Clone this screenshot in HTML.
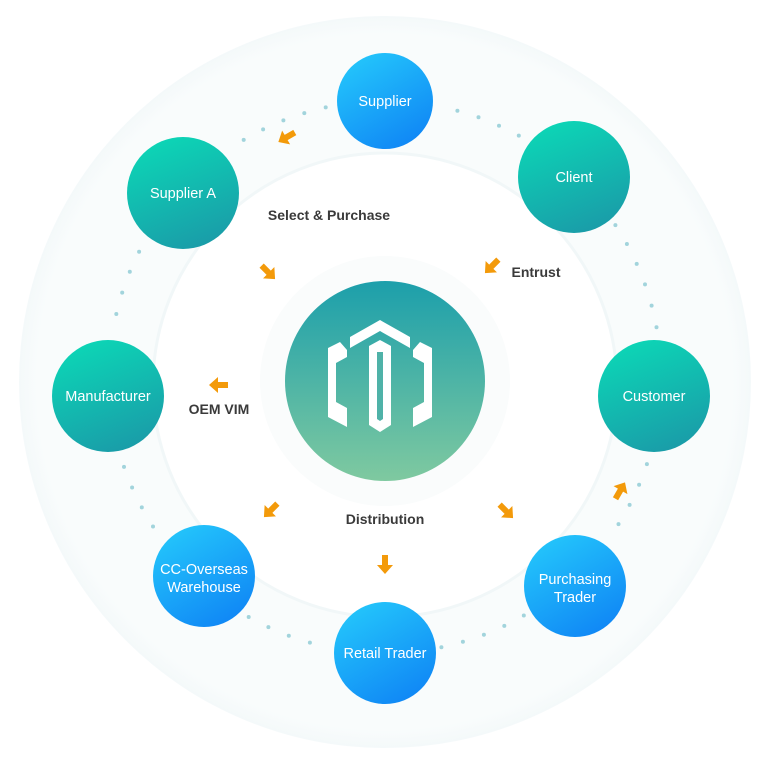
<!DOCTYPE html>
<html><head><meta charset="utf-8"><style>
html,body{margin:0;padding:0;background:#fff;width:781px;height:780px;overflow:hidden}
text{font-family:"Liberation Sans",sans-serif}
</style></head><body>
<svg id="s" width="781" height="780" viewBox="0 0 781 780" xmlns="http://www.w3.org/2000/svg">
<defs>
<linearGradient id="bl" x1="0.2" y1="0" x2="0.8" y2="1"><stop offset="0" stop-color="#24c7fb"/><stop offset="1" stop-color="#0f84f5"/></linearGradient>
<linearGradient id="gr" x1="0.3" y1="0" x2="0.7" y2="1"><stop offset="0" stop-color="#0cd6b6"/><stop offset="1" stop-color="#1a9ba8"/></linearGradient>
<linearGradient id="ct" x1="0" y1="0" x2="0" y2="1"><stop offset="0" stop-color="#1c9fab"/><stop offset="1" stop-color="#7fc9a0"/></linearGradient>
<radialGradient id="og" cx="0.5" cy="0.5" r="0.5"><stop offset="0.95" stop-color="#f9fcfc"/><stop offset="1" stop-color="#f4f9fa"/></radialGradient>
<path id="ar" d="M-9,-3 L1,-3 L1,-8 L10,0 L1,8 L1,3 L-9,3Z" fill="#f39a0a"/>
</defs>
<circle cx="385" cy="382" r="366" fill="url(#og)"/>
<circle cx="385" cy="385" r="232" fill="#fff" stroke="#f1f7f8" stroke-width="3"/>
<circle cx="385" cy="381" r="125" fill="#fafcfc"/>
<g id="dots" fill="#a2d4dc"></g>
<circle cx="385" cy="381" r="100" fill="url(#ct)"/>
<g fill="#fff">
<path d="M380,320 L410,337 L410,348 L380,331 L350,348 L350,337Z"/>
<path d="M369,346 L380,340 L391,346 L391,425 L380,432 L369,425Z"/>
<path d="M377,352 L377,419 L380,421 L383,419 L383,352Z" fill="#4fb2a8"/>
<path d="M347,350 L347,357 L336,363 L336,402 L347,408 L347,427 L328,417 L328,348 L340,342 Z"/>
<path d="M413,350 L413,357 L424,363 L424,402 L413,408 L413,427 L432,417 L432,348 L420,342 Z"/>
</g>
<circle cx="385" cy="101" r="48" fill="url(#bl)"/>
<circle cx="183" cy="193" r="56" fill="url(#gr)"/>
<circle cx="574" cy="177" r="56" fill="url(#gr)"/>
<circle cx="108" cy="396" r="56" fill="url(#gr)"/>
<circle cx="654" cy="396" r="56" fill="url(#gr)"/>
<circle cx="204" cy="576" r="51" fill="url(#bl)"/>
<circle cx="385" cy="653" r="51" fill="url(#bl)"/>
<circle cx="575" cy="586" r="51" fill="url(#bl)"/>
<g fill="#fff" font-size="14.5" text-anchor="middle">
<text x="385" y="106">Supplier</text>
<text x="183" y="198">Supplier A</text>
<text x="574" y="182">Client</text>
<text x="108" y="401">Manufacturer</text>
<text x="654" y="401">Customer</text>
<text x="204" y="574">CC-Overseas</text>
<text x="204" y="592">Warehouse</text>
<text x="385" y="658">Retail Trader</text>
<text x="575" y="584">Purchasing</text>
<text x="575" y="602">Trader</text>
</g>
<g fill="#3a3a3a" font-size="14" font-weight="bold" text-anchor="middle">
<text x="329" y="220">Select &amp; Purchase</text>
<text x="536" y="277">Entrust</text>
<text x="219" y="414">OEM VIM</text>
<text x="385" y="524">Distribution</text>
</g>
<use href="#ar" transform="translate(287,137) rotate(150)"/>
<use href="#ar" transform="translate(268,272) rotate(45)"/>
<use href="#ar" transform="translate(492,266) rotate(135)"/>
<use href="#ar" transform="translate(219,385) rotate(180)"/>
<use href="#ar" transform="translate(271,510) rotate(135)"/>
<use href="#ar" transform="translate(385,564) rotate(90)"/>
<use href="#ar" transform="translate(506,511) rotate(45)"/>
<use href="#ar" transform="translate(620,491) rotate(-60)"/>
</svg>
<script>
var nodes=[[385,101,48],[183,193,56],[574,177,56],[108,396,56],[654,396,56],[204,576,51],[385,653,51],[575,586,51]];
var g=document.getElementById('dots'),h='';
for(var a=0;a<360;a+=4.6){var r=a*Math.PI/180,x=385+276*Math.cos(r),y=377+276*Math.sin(r),ok=true;
for(var i=0;i<nodes.length;i++){var n=nodes[i];if(Math.hypot(x-n[0],y-n[1])<n[2]+5)ok=false;}
if(ok)h+='<circle cx="'+x.toFixed(1)+'" cy="'+y.toFixed(1)+'" r="2"/>';}
g.innerHTML=h;
</script>
</body></html>
